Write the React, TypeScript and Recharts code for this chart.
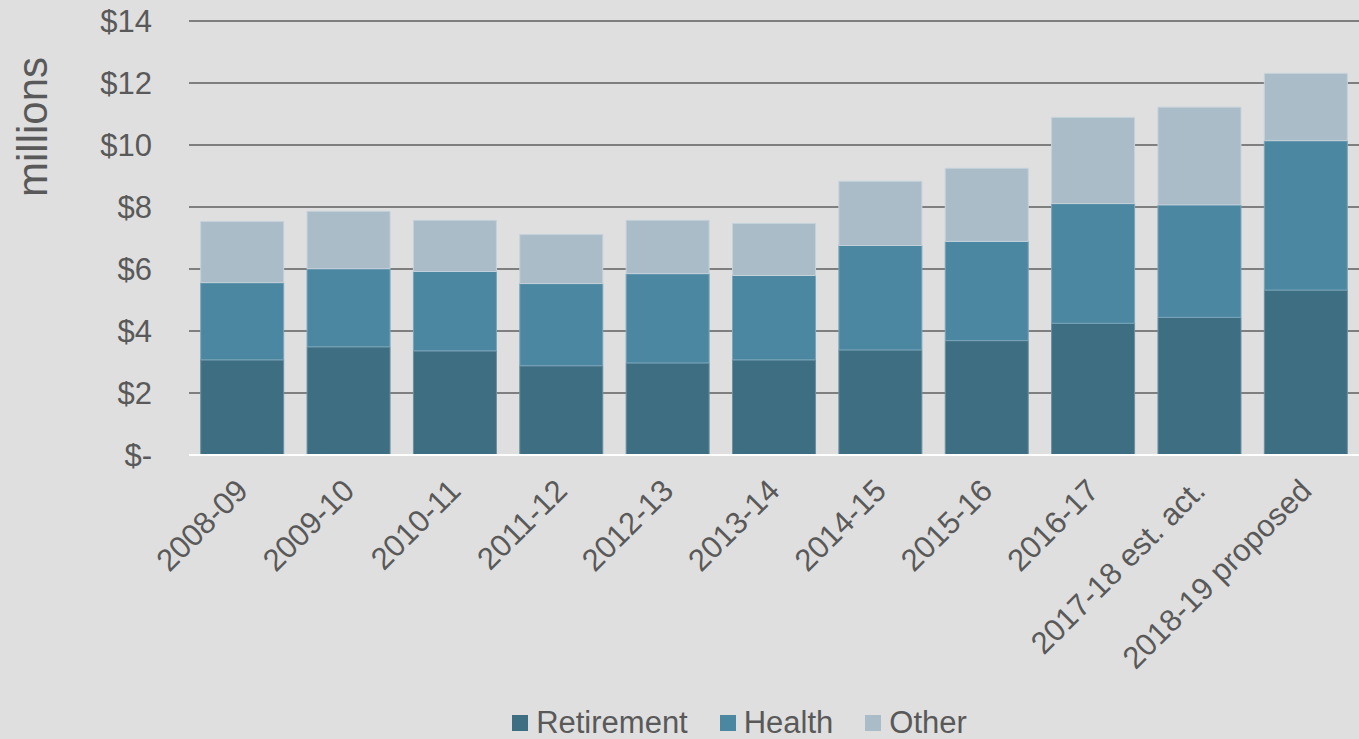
import { BarChart, Bar, XAxis, YAxis, CartesianGrid, Legend } from 'recharts';

const years = [
  '2008-09', '2009-10', '2010-11', '2011-12', '2012-13', '2013-14',
  '2014-15', '2015-16', '2016-17', '2017-18 est. act.', '2018-19 proposed',
];
const retirement = [3.07, 3.49, 3.36, 2.88, 2.97, 3.07, 3.39, 3.69, 4.25, 4.44, 5.32];
const health = [2.49, 2.52, 2.56, 2.65, 2.88, 2.72, 3.37, 3.2, 3.86, 3.63, 4.82];
const other = [1.97, 1.85, 1.65, 1.58, 1.72, 1.68, 2.07, 2.36, 2.78, 3.15, 2.17];
const yTicks = [0, 2, 4, 6, 8, 10, 12, 14];

const FONT = '"Liberation Sans", Arial, sans-serif';
const TEXT = '#595959';

const series = [
  { key: 'retirement', name: 'Retirement', fill: '#3E6E82', stroke: '#6A90A2' },
  { key: 'health', name: 'Health', fill: '#4C87A1', stroke: '#7AA5BA' },
  { key: 'other', name: 'Other', fill: '#AABCC8', stroke: '#C4D2DB' },
];

const data = years.map((year, i) => ({
  year,
  retirement: retirement[i],
  health: health[i],
  other: other[i],
}));

function LegendContent() {
  return (
    <div
      style={{
        height: 40,
        boxSizing: 'border-box',
        paddingTop: 8,
        paddingLeft: 120,
        display: 'flex',
        justifyContent: 'center',
        alignItems: 'center',
        fontFamily: FONT,
        fontSize: 31,
        color: TEXT,
      }}
    >
      {series.map((s, i) => (
        <div key={s.key} style={{ display: 'flex', alignItems: 'center', marginLeft: i ? 32 : 0 }}>
          <span style={{ width: 16, height: 16, background: s.fill, marginRight: 8 }} />
          <span style={{ lineHeight: '32px' }}>{s.name}</span>
        </div>
      ))}
    </div>
  );
}

function UnitLabel(props: any) {
  const vb = props.viewBox || { x: 0, y: 21 };
  const cx = vb.x + 47;
  const cy = vb.y + 106;
  return (
    <text
      x={cx}
      y={cy}
      transform={`rotate(-90, ${cx}, ${cy})`}
      textAnchor="middle"
      fill={TEXT}
      fontSize={42}
      fontFamily={FONT}
    >
      millions
    </text>
  );
}

// rotated category label, nudged left a little so it ends under the bar
function YearTick(props: any) {
  const { x, y, payload } = props;
  const tx = x - 8;
  return (
    <text
      x={tx}
      y={y}
      dy="0.71em"
      transform={`rotate(-45, ${tx}, ${y})`}
      textAnchor="end"
      fill={TEXT}
      fontSize={31}
      fontFamily={FONT}
    >
      {payload.value}
    </text>
  );
}

export default function App() {
  return (
    <div style={{ position: 'absolute', left: 0, top: 0, width: 1359, height: 739, background: '#DFDFDF' }}>
      <BarChart
        width={1359}
        height={739}
        data={data}
        margin={{ top: 21, right: 0, left: 0, bottom: 0 }}
        barCategoryGap="11%"
        style={{ fontFamily: FONT }}
      >
        <CartesianGrid vertical={false} stroke="#7F7F7F" strokeWidth={2} />
        <XAxis
          dataKey="year"
          interval={0}
          height={244}
          tickLine={false}
          tickSize={0}
          tickMargin={22}
          axisLine={{ stroke: '#FFFFFF', strokeWidth: 2 }}
          tick={<YearTick />}
        />
        <YAxis
          width={189}
          domain={[0, 14]}
          ticks={yTicks}
          interval={0}
          axisLine={false}
          tickLine={false}
          tickSize={0}
          tickMargin={37}
          tickFormatter={(v: number) => (v === 0 ? '$-' : `$${v}`)}
          tick={{ fill: TEXT, fontSize: 31, fontFamily: FONT }}
          label={<UnitLabel />}
        />
        <Legend verticalAlign="bottom" content={<LegendContent />} wrapperStyle={{ left: 0, width: 1359 }} />
        {series.map((s) => (
          <Bar
            key={s.key}
            dataKey={s.key}
            name={s.name}
            stackId="total"
            fill={s.fill}
            stroke={s.stroke}
            strokeWidth={1}
            isAnimationActive={false}
          />
        ))}
      </BarChart>
    </div>
  );
}
